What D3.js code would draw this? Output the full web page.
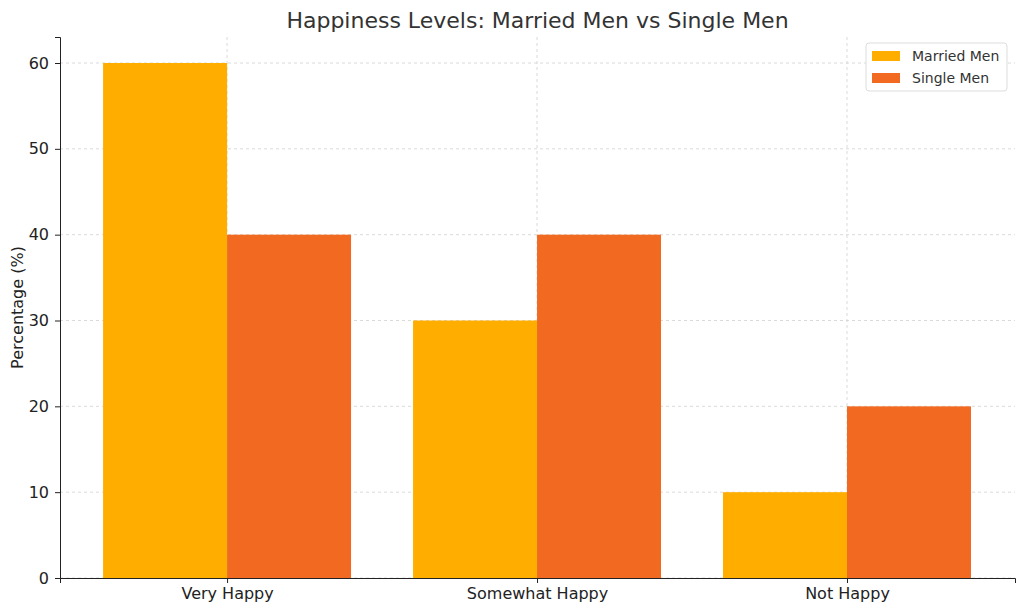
<!DOCTYPE html>
<html><head><meta charset="utf-8">
<script src="https://cdn.jsdelivr.net/npm/d3@7"></script>
<style>body{margin:0;background:#fff;font-family:"DejaVu Sans",sans-serif;}</style>
</head><body><svg id="chart" width="1024" height="611"></svg>
<script>
const categories = ["Very Happy", "Somewhat Happy", "Not Happy"];
const married = [60, 30, 10];
const single = [40, 40, 20];
const series_names = ["Married Men", "Single Men"];
const colors = ["#FFAE00", "#F26A22"];
const y_ticks = [0, 10, 20, 30, 40, 50, 60];

const svg = d3.select("#chart");
const margins = [37, 9, 33, 60]; // top, right, bottom, left
const [mt, mr, mb, ml] = margins;
const W = 1024, H = 611;

const x = d3.scaleLinear().domain([-0.539, 2.542]).range([ml, W - mr]);
const y = d3.scaleLinear().domain([0, 63.03]).range([H - mb, mt]);
const bw = 0.4;

// grid
svg.append("g").selectAll("line").data(y_ticks).join("line")
  .attr("x1", ml).attr("x2", W - mr).attr("y1", d => y(d)).attr("y2", d => y(d))
  .attr("stroke", "#d0d0d0").attr("stroke-dasharray", "3,3").attr("stroke-width", 0.8);
svg.append("g").selectAll("line").data(categories).join("line")
  .attr("x1", (d, i) => x(i)).attr("x2", (d, i) => x(i)).attr("y1", mt).attr("y2", H - mb)
  .attr("stroke", "#d0d0d0").attr("stroke-dasharray", "3,3").attr("stroke-width", 0.8);

// bars
[married, single].forEach((vals, s) => {
  svg.append("g").selectAll("rect").data(vals).join("rect")
    .attr("x", (d, i) => x(i - bw + s * bw))
    .attr("width", x(bw) - x(0))
    .attr("y", d => y(d))
    .attr("height", d => y(0) - y(d))
    .attr("fill", colors[s]);
});

// axes
const ya = svg.append("g").attr("transform", `translate(${ml},0)`)
  .call(d3.axisLeft(y).tickValues(y_ticks).tickSize(5).tickPadding(6));
const xa = svg.append("g").attr("transform", `translate(0,${H - mb})`)
  .call(d3.axisBottom(x).tickValues([0, 1, 2]).tickFormat(i => categories[i]).tickSize(5).tickPadding(5));
[ya, xa].forEach(a => {
  a.selectAll("text").attr("font-size", 16).attr("fill", "#222").attr("font-family", "DejaVu Sans");
  a.select(".domain").attr("stroke", "#222");
  a.selectAll(".tick line").attr("stroke", "#222");
});
svg.append("line").attr("x1", W - mr).attr("x2", W - mr).attr("y1", mt).attr("y2", H - mb).attr("stroke", "none");

// labels
svg.append("text").attr("x", (ml + W - mr) / 2).attr("y", 28).attr("text-anchor", "middle")
  .attr("font-size", 22).attr("fill", "#333").text("Happiness Levels: Married Men vs Single Men");
svg.append("text").attr("transform", `translate(23,${(mt + H - mb) / 2}) rotate(-90)`)
  .attr("text-anchor", "middle").attr("font-size", 16).attr("fill", "#222").text("Percentage (%)");

// legend
const lg = svg.append("g").attr("transform", "translate(866,43)");
lg.append("rect").attr("width", 141).attr("height", 48).attr("rx", 3)
  .attr("fill", "#fff").attr("stroke", "#ddd");
series_names.forEach((n, i) => {
  lg.append("rect").attr("x", 6).attr("y", 8 + i * 22).attr("width", 28).attr("height", 10).attr("fill", colors[i]);
  lg.append("text").attr("x", 46).attr("y", 18 + i * 22).attr("font-size", 14).attr("fill", "#333").text(n);
});
</script></body></html>
